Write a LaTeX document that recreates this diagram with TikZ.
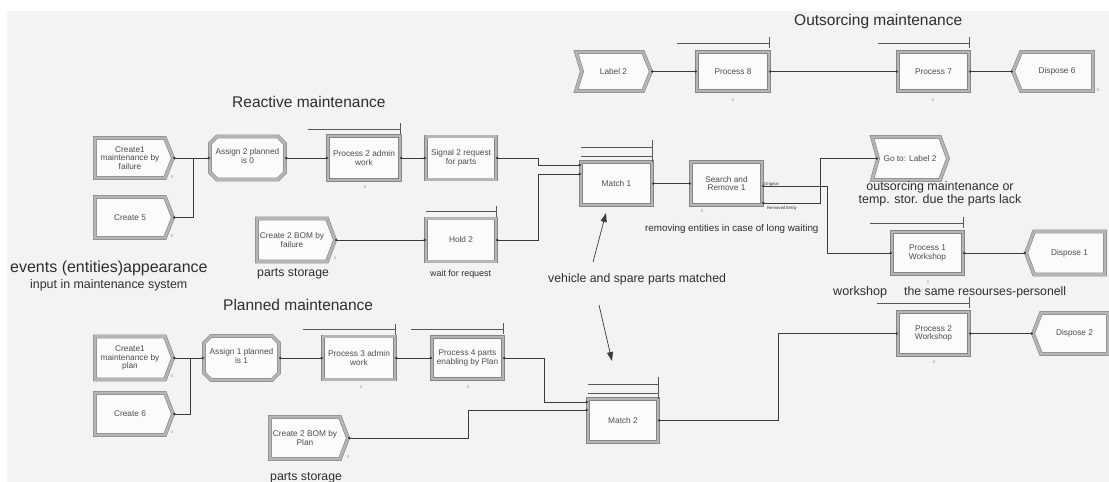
\documentclass[tikz,border=0pt]{standalone}
\usepackage{fontspec}
\setmainfont{Liberation Sans}
\usetikzlibrary{arrows.meta}
\definecolor{bgc}{HTML}{F3F3F3}
\definecolor{frm}{HTML}{858585}
\definecolor{frmin}{HTML}{B5B5B5}
\definecolor{ln}{HTML}{3A3A3A}
\definecolor{txt}{HTML}{2E2E2E}
\definecolor{boxin}{HTML}{FBFBFB}
\tikzset{
 geom/.style={draw=none, inner sep=0pt, outer sep=0pt, rectangle},
 frame/.style={fill=boxin, draw=frm, line width=0.6pt, double=frmin, double distance=2.6pt, line join=miter},
 mtext/.style={inner sep=0pt, align=center, text=txt!85, font=\fontsize{8.3}{8.6}\selectfont},
 conn/.style={draw=ln, line width=0.6pt, arrows={Circle[length=2.4pt]-Circle[length=2.4pt]}},
 conns/.style={draw=ln, line width=0.6pt, arrows={Circle[length=2.4pt]-}},
 bar/.style={draw=ln!85, line width=0.6pt},
 cnt/.style={inner sep=0pt, text=black!45, font=\fontsize{4}{4}\selectfont},
 ann/.style={inner sep=0pt, text=txt, anchor=west},
 ptr/.style={draw=ln, line width=0.7pt, -{Triangle[length=9pt,width=6pt]}},
 tinylab/.style={inner sep=0pt, anchor=west, text=txt, font=\fontsize{4.2}{4.2}\selectfont},
}
\newcommand\mkcreate[6]{%
 \node[geom,minimum width=#4pt,minimum height=#5pt] (#1) at (#2,#3) {};
 \draw[frame] (#1.north west) -- ([xshift=-8pt]#1.north east) -- (#1.east) -- ([xshift=-8pt]#1.south east) -- (#1.south west) -- cycle;
 \node[mtext] (#1-t) at ([xshift=-4pt]#1.center) {#6};}
\newcommand\mkproc[6]{%
 \node[geom,minimum width=#4pt,minimum height=#5pt] (#1) at (#2,#3) {};
 \draw[frame] (#1.north west) rectangle (#1.south east);
 \node[mtext] (#1-t) at (#1.center) {#6};}
\newcommand\mkassign[6]{%
 \node[geom,minimum width=#4pt,minimum height=#5pt] (#1) at (#2,#3) {};
 \draw[frame] ([xshift=7pt]#1.north west) -- ([xshift=-7pt]#1.north east) -- ([yshift=-7pt]#1.north east) -- ([yshift=7pt]#1.south east) -- ([xshift=-7pt]#1.south east) -- ([xshift=7pt]#1.south west) -- ([yshift=7pt]#1.south west) -- ([yshift=-7pt]#1.north west) -- cycle;
 \node[mtext] (#1-t) at ([yshift=2pt]#1.center) {#6};}
\newcommand\mkdispose[6]{%
 \node[geom,minimum width=#4pt,minimum height=#5pt] (#1) at (#2,#3) {};
 \draw[frame] (#1.west) -- ([xshift=8pt]#1.north west) -- (#1.north east) -- (#1.south east) -- ([xshift=8pt]#1.south west) -- cycle;
 \node[mtext] (#1-t) at ([xshift=4pt]#1.center) {#6};}
\newcommand\mklabel[6]{%
 \node[geom,minimum width=#4pt,minimum height=#5pt] (#1) at (#2,#3) {};
 \draw[frame] (#1.north west) -- ([xshift=-8pt]#1.north east) -- (#1.east) -- ([xshift=-8pt]#1.south east) -- (#1.south west) -- ([xshift=6pt]#1.west) -- cycle;
 \coordinate (#1-in) at ([xshift=6pt]#1.west);
 \node[mtext] (#1-t) at (#1.center) {#6};}
\newcommand\rbar[3]{%
 \draw[bar] ([xshift=-#2pt,yshift=#3pt]#1.north west) -- ([yshift=#3pt]#1.north east);
 \draw[bar] ([yshift=#3pt+6pt]#1.north east) -- ([yshift=#3pt-5pt]#1.north east);}
\newcommand\mqueue[1]{%
 \draw[bar] ([yshift=15pt]#1.north west) -- ([yshift=15pt]#1.north east);
 \draw[bar] ([yshift=6pt]#1.north west) -- ([yshift=6pt]#1.north east);
 \draw[bar] ([yshift=22pt]#1.north east) -- (#1.north east);}
\begin{document}
\begin{tikzpicture}[x=1pt,y=-1pt]
\useasboundingbox (0,0) rectangle (1109,482);
\fill[white] (0,0) rectangle (1109,482);
\fill[bgc] (7,11) rectangle (1109,482);

% ---- reactive maintenance
\mkcreate{cr1}{134}{158}{78}{40}{Create1\\maintenance by\\failure}
\mkcreate{cr5}{134}{217.5}{78}{41}{Create 5}
\mkassign{as2}{247.5}{158}{75}{43}{Assign 2 planned\\is 0}
\mkproc{p2}{364}{158}{72}{44}{Process 2 admin\\work}
\mkproc{s2}{461}{158}{70}{43}{Signal 2 request\\for parts}
\mkcreate{b1}{296}{240}{78}{43}{Create 2 BOM by\\failure}
\mkproc{h2}{461}{240}{70}{43}{Hold 2}
\mkproc{m1}{616.5}{183.5}{71}{43}{Match 1}
\mkproc{sr}{726.5}{183.5}{71}{43}{Search and\\Remove 1}
\mklabel{gt}{910}{158.5}{76}{43}{Go to: Label 2}
\mkproc{p1}{927.5}{253}{71}{42}{Process 1\\Workshop}
\mkdispose{d1}{1065.5}{253}{79}{43}{Dispose 1}

% ---- planned maintenance
\mkcreate{cp}{134}{358}{78}{43}{Create1\\maintenance by\\plan}
\mkcreate{c6}{134}{414}{78}{42}{Create 6}
\mkassign{as1}{241.5}{358}{75}{44}{Assign 1 planned\\is 1}
\mkproc{p3}{359}{358}{72}{43}{Process 3 admin\\work}
\mkproc{p4}{467.5}{358}{71}{42}{Process 4 parts\\enabling by Plan}
\mkcreate{bp}{309}{438}{78}{42}{Create 2 BOM by\\Plan}
\mkproc{m2}{623}{420.5}{70}{43}{Match 2}
\mkproc{pw2}{933.5}{333.5}{71}{43}{Process 2\\Workshop}
\mkdispose{d2}{1070.5}{333.5}{75}{41}{Dispose 2}

% ---- outsourcing
\mklabel{l2}{613.5}{71.5}{75}{39}{Label 2}
\mkproc{p8}{733}{71.5}{72}{39}{Process 8}
\mkproc{p7}{933.5}{71.5}{71}{39}{Process 7}
\mkdispose{d6}{1053}{71.5}{80}{39}{Dispose 6}

% ---- resource bars and queues
\rbar{p2}{20}{7}
\rbar{h2}{0}{7}
\rbar{p1}{22}{9}
\rbar{pw2}{21}{9}
\rbar{p3}{20}{7}
\rbar{p4}{21}{8}
\rbar{p8}{20}{9}
\rbar{p7}{20}{9}
\mqueue{m1}
\mqueue{m2}

% ---- connection points
\coordinate (j1) at (193,158);
\coordinate (j2) at (190,358);
\coordinate (m1a) at ([yshift=-3pt]m1.north west);
\coordinate (m1b) at ([yshift=-12pt]m1.north west);
\coordinate (m2a) at ([yshift=-3pt]m2.north west);
\coordinate (m2b) at ([yshift=-11pt]m2.north west);
\coordinate (sro) at ([yshift=-2.5pt]sr.east);
\coordinate (srr) at ([yshift=2pt]sr.south east);

% ---- connectors
\draw[conn] (cr1.east) -- (as2.west);
\draw[conns] (cr5.east) -| (j1);
\draw[conn] (as2.east) -- (p2.west);
\draw[conn] (p2.east) -- (s2.west);
\draw[conn] (s2.east) -- ++(42,0) |- (m1a);
\draw[conn] (b1.east) -- (h2.west);
\draw[conn] (h2.east) -- ++(42,0) |- (m1b);
\draw[conn] (m1.east) -- (sr.west);
\draw[conn] (sro) -- ++(65,0) |- (p1.west);
\draw[conn] (srr) -- ++(58,0) |- (gt-in);
\draw[conn] (p1.east) -- (d1.west);

\draw[conn] (cp.east) -- (as1.west);
\draw[conns] (c6.east) -| (j2);
\draw[conn] (as1.east) -- (p3.west);
\draw[conn] (p3.east) -- (p4.west);
\draw[conn] (p4.east) -- ++(41,0) |- (m2a);
\draw[conn] (bp.east) -- ++(120,0) |- (m2b);
\draw[conn] (m2.east) -- ++(120,0) |- (pw2.west);
\draw[conn] (pw2.east) -- (d2.west);

\draw[conn] (l2.east) -- (p8.west);
\draw[conn] (p8.east) -- (p7.west);
\draw[conn] (p7.east) -- (d6.west);

\node[tinylab] (lo) at (764,184) {Original};
\node[tinylab] (lr) at (767,208) {Removed Entity};

% ---- counters
\node[cnt] (k1) at (172,177) {0};
\node[cnt] (k2) at (172,236) {0};
\node[cnt] (k3) at (365,187) {0};
\node[cnt] (k4) at (335,258) {0};
\node[cnt] (k5) at (702,211) {0};
\node[cnt] (k6) at (928,282) {0};
\node[cnt] (k7) at (934,362) {0};
\node[cnt] (k8) at (172,376) {0};
\node[cnt] (k9) at (172,432) {0};
\node[cnt] (k10) at (361,387) {0};
\node[cnt] (k11) at (468,387) {0};
\node[cnt] (k12) at (348,457) {0};
\node[cnt] (k13) at (733,100) {0};
\node[cnt] (k14) at (933,100) {0};
\node[cnt] (k15) at (1098,90) {0};

% ---- annotations
\node[ann,font=\fontsize{15.5}{17}\selectfont] (t1) at (232,102) {Reactive maintenance};
\node[ann,font=\fontsize{15.5}{17}\selectfont] (t2) at (794,21) {Outsorcing maintenance};
\node[ann,font=\fontsize{15.5}{17}\selectfont] (t3) at (223,305) {Planned maintenance};
\node[ann,font=\fontsize{16}{18}\selectfont] (t4) at (10,268) {events (entities)appearance};
\node[ann,font=\fontsize{12.4}{14}\selectfont] (t5) at (30,285) {input in maintenance system};
\node[ann,font=\fontsize{12.3}{14}\selectfont] (t6) at (257,274) {parts storage};
\node[ann,font=\fontsize{12.3}{14}\selectfont] (t7) at (270,478) {parts storage};
\node[ann,font=\fontsize{8.9}{10}\selectfont] (t8) at (430,274) {wait for request};
\node[ann,font=\fontsize{12.3}{14}\selectfont] (t9) at (548,279) {vehicle and spare parts matched};
\node[ann,font=\fontsize{9.8}{11}\selectfont] (t10) at (645,229) {removing entities in case of long waiting};
\node[inner sep=0pt,text=txt,align=center,font=\fontsize{12.5}{13}\selectfont] (t11) at (940,193.5) {outsorcing maintenance or\\temp. stor. due the parts lack};
\node[ann,font=\fontsize{12.6}{14}\selectfont] (t12) at (833,292) {workshop};
\node[ann,font=\fontsize{12.3}{14}\selectfont] (t13) at (904,292) {the same resourses-personell};

% ---- pointers
\coordinate (a1s) at (593,262);
\coordinate (a1e) at (606,213);
\coordinate (a2s) at (599,305);
\coordinate (a2e) at (612,361);
\draw[ptr] (a1s) -- (a1e);
\draw[ptr] (a2s) -- (a2e);
\end{tikzpicture}
\end{document}
